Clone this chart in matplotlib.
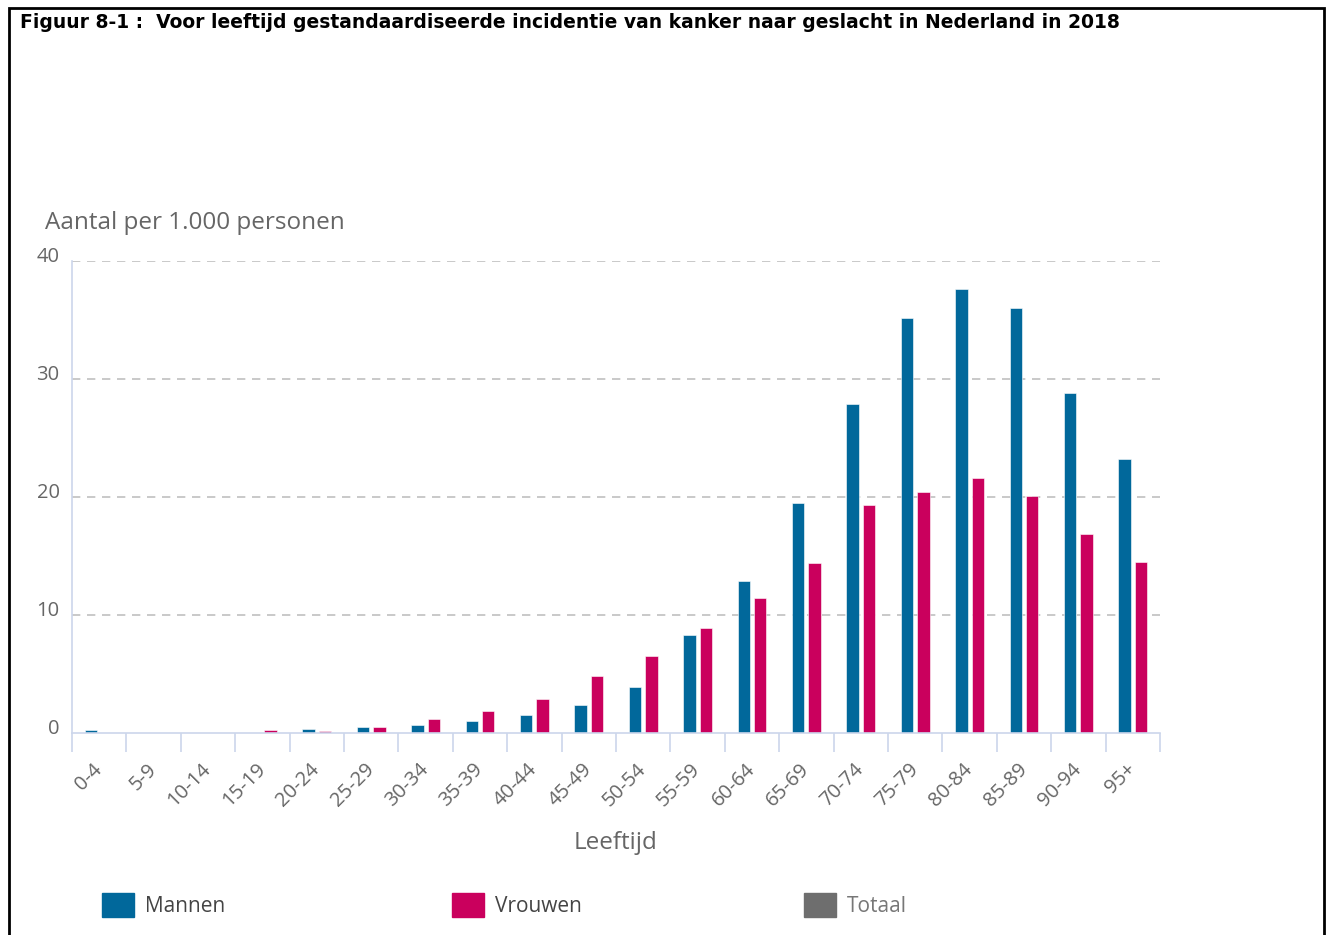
import matplotlib.pyplot as plt
import numpy as np
from matplotlib.patches import Rectangle
from matplotlib.transforms import ScaledTranslation

# Data
leeftijd = ["0-4", "5-9", "10-14", "15-19", "20-24", "25-29", "30-34", "35-39",
            "40-44", "45-49", "50-54", "55-59", "60-64", "65-69", "70-74",
            "75-79", "80-84", "85-89", "90-94", "95+"]
mannen = [0.25, 0.0, 0.0, 0.0, 0.35, 0.5, 0.7, 1.0, 1.5, 2.4, 3.9, 8.3,
          12.9, 19.5, 27.9, 35.2, 37.6, 36.0, 28.8, 23.2]
vrouwen = [0.0, 0.0, 0.0, 0.25, 0.2, 0.5, 1.2, 1.9, 2.9, 4.8, 6.5, 8.9,
           11.4, 14.4, 19.3, 20.4, 21.6, 20.1, 16.9, 14.5]
legend_names = ["Mannen", "Vrouwen", "Totaal"]
legend_colors = ["#01689b", "#ca005d", "#6e6e6e"]

grey = "#666666"
axis_col = "#ccd6eb"
fam = "Open Sans"

fig = plt.figure(figsize=(13.3, 9.35), dpi=100)
ax = fig.add_axes([72/1330, 1-733/935, (1160-72)/1330, (733-261)/935])

x = np.arange(len(leeftijd))
w = 0.228
off = 0.149
ax.bar(x - off, mannen, w, color=legend_colors[0], edgecolor="white", linewidth=0.4)
ax.bar(x + off, vrouwen, w, color=legend_colors[1], edgecolor="white", linewidth=0.4)

ax.set_xlim(-0.5, len(leeftijd) - 0.5)
ax.set_ylim(0, 40)

# grid
ax.set_yticks([0, 10, 20, 30, 40])
for yv in [10, 20, 30, 40]:
    ax.axhline(yv, color="#c0c0c0", lw=1.2, ls=(0, (5, 4)), zorder=0)

for s in ["top", "right"]:
    ax.spines[s].set_visible(False)
for s in ["left", "bottom"]:
    ax.spines[s].set_color(axis_col)
    ax.spines[s].set_linewidth(1.2)

ax.tick_params(axis="y", length=0, pad=9, labelsize=14.5, labelcolor=grey)
for lab in ax.get_yticklabels():
    lab.set_fontfamily(fam)
    lab.set_transform(lab.get_transform() + ScaledTranslation(0, 5/72, fig.dpi_scale_trans))

# x ticks at category edges, labels at centers
ax.set_xticks(np.arange(-0.5, len(leeftijd), 1.0))
ax.set_xticklabels([])
ax.set_xticks(x, minor=True)
ax.set_xticklabels(leeftijd, minor=True, rotation=45, ha="right", va="center",
                   rotation_mode="anchor", fontsize=14.5, color=grey,
                   fontfamily=fam)
for lab in ax.get_xticklabels(minor=True):
    lab.set_transform(lab.get_transform() + ScaledTranslation(-1/72, 0, fig.dpi_scale_trans))
ax.tick_params(axis="x", which="major", length=14, width=1.2, color=axis_col, direction="out")
ax.tick_params(axis="x", which="minor", length=0, pad=24)

fig.text(45/1330, 1-223/935, "Aantal per 1.000 personen", fontsize=17.5,
         color=grey, fontfamily=fam, va="center", ha="left")
fig.text(616/1330, 1-843/935, "Leeftijd", fontsize=17.5, color=grey,
         fontfamily=fam, va="center", ha="center")

# title and frame
fig.text(20/1330, 1-22/935,
         "Figuur 8-1 :  Voor leeftijd gestandaardiseerde incidentie van kanker naar geslacht in Nederland in 2018",
         fontsize=13.5, fontweight="bold", fontfamily="DejaVu Sans", va="center", ha="left")
fig.add_artist(Rectangle((9/1330, -0.05), (1324-9)/1330, 1.05-8/935,
                         transform=fig.transFigure, fill=False, ec="black", lw=2))

# legend
lx = [102, 452, 804]
for i, name in enumerate(legend_names):
    fig.add_artist(Rectangle((lx[i]/1330, 1-917/935), 32/1330, 24/935,
                             transform=fig.transFigure, color=legend_colors[i]))
    fig.text((lx[i]+43)/1330, 1-906/935, name, fontsize=15,
             color="#444444" if i < 2 else "#777777",
             fontfamily=fam, va="center", ha="left")

fig.savefig("out.png", dpi=100)
